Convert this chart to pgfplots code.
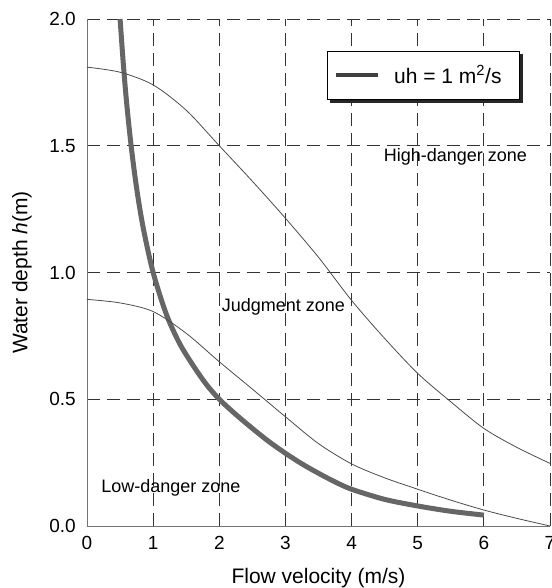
\documentclass[border=0pt]{standalone}
\usepackage{fontspec}
\setmainfont{Liberation Sans}
\usepackage{pgfplots}
\pgfplotsset{compat=1.18}

\begin{document}
\begin{tikzpicture}
\begin{axis}[
    name=ax,
    scale only axis,
    width=463pt, height=507pt,
    xmin=0, xmax=7, ymin=0, ymax=2,
    xtick={0,1,...,7},
    ytick={0,0.5,1,1.5,2},
    axis x line=bottom, axis y line=left,
    axis line style={-, black!55, line width=0.8pt},
    major tick length=0pt,
    grid=major,
    major grid style={black!80, line width=0.9pt, dash pattern=on 13pt off 7pt},
    /pgf/number format/assume math mode=true,
    yticklabel style={/pgf/number format/fixed, /pgf/number format/fixed zerofill,
                      /pgf/number format/precision=1},
    tick label style={font=\fontsize{19}{22}\selectfont, inner sep=0pt},
    xticklabel style={anchor=north, yshift=-10pt},
    yticklabel style={anchor=east, xshift=-11pt},
    xlabel={Flow velocity (m/s)},
    ylabel={Water depth \textit{h}(m)},
    label style={font=\fontsize{21}{24}\selectfont},
    xlabel style={at={(axis description cs:0.5,-0.1144)}, anchor=base},
    ylabel style={at={(axis description cs:-0.1404,0.5)}, anchor=center},
    legend style={name=leg, at={(0.935,0.937)}, anchor=north east,
        draw=black, line width=0.8pt, fill=white,
        inner xsep=0pt, inner ysep=0pt,
        nodes={inner sep=0pt, font=\fontsize{21}{24}\selectfont}},
    legend image code/.code={
        \path[draw=none] (0pt,-24pt) rectangle (67pt,24pt);
        \draw[black!75, line width=4pt] (9pt,0pt) -- (51pt,0pt);
    },
]

% uh = 1 curve (thick)
\addplot[black!60, line width=5pt, smooth] coordinates {
(0.5,2.0) (0.55,1.82) (0.6,1.667) (0.667,1.5) (0.75,1.333) (0.85,1.176)
(1.0,1.0) (1.2,0.835) (1.4,0.72) (1.6,0.635) (1.8,0.56) (2.0,0.5)
(2.25,0.44) (2.5,0.385) (2.75,0.333) (3.0,0.287) (3.25,0.245) (3.5,0.208)
(3.75,0.174) (4.0,0.145) (4.5,0.105) (5.0,0.079) (5.5,0.058) (6.0,0.043)
};
\addlegendentry{uh = 1 m\textsuperscript{2}/s\hspace*{18pt}}

% upper boundary
\addplot[black!70, line width=0.8pt, smooth, forget plot] coordinates {
(0,1.81) (0.5,1.79) (1,1.74) (1.5,1.64) (2,1.5) (2.5,1.36) (3,1.214)
(3.5,1.06) (4,0.89) (4.5,0.74) (5,0.602) (5.5,0.49) (6,0.385) (6.5,0.31) (7,0.247)
};

% lower boundary
\addplot[black!70, line width=0.8pt, smooth, forget plot] coordinates {
(0,0.894) (0.5,0.88) (1,0.846) (1.5,0.76) (2,0.648) (2.5,0.54) (3,0.431)
(3.5,0.325) (4,0.245) (4.5,0.19) (5,0.145) (5.5,0.102) (6,0.063) (6.5,0.03) (7,0.0)
};

\node[font=\fontsize{18}{21}\selectfont] at (axis cs:5.57,1.456) {High-danger zone};
\node[font=\fontsize{18}{21}\selectfont] at (axis cs:2.97,0.864) {Judgment zone};
\node[font=\fontsize{18}{21}\selectfont] at (axis cs:1.27,0.15) {Low-danger zone};
\end{axis}
% legend shadow (strips right of and below the frame)
\fill[black!85] ([shift={(3pt,-3.4pt)}]leg.south west) rectangle ([shift={(3.4pt,-0.4pt)}]leg.south east);
\fill[black!85] ([shift={(0.4pt,-3.4pt)}]leg.south east) rectangle ([shift={(3.4pt,-3pt)}]leg.north east);
\pgfresetboundingbox
\path ([shift={(-87pt,-62pt)}]ax.south west) rectangle ([shift={(2pt,19pt)}]ax.north east);
\end{tikzpicture}
\end{document}
